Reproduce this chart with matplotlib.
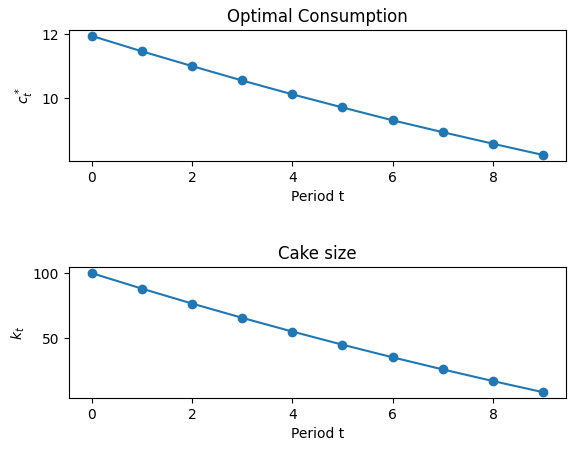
import numpy as np
import matplotlib.pyplot as plt

periods = [0, 1, 2, 3, 4, 5, 6, 7, 8, 9]
consumption = [11.95, 11.47, 11.01, 10.56, 10.13, 9.72, 9.32, 8.95, 8.59, 8.24]
cake = [100.0, 88.05, 76.58, 65.57, 55.01, 44.88, 35.16, 25.84, 16.89, 8.30]

fig, (ax1, ax2) = plt.subplots(2, 1, figsize=(5.75, 4.53), dpi=100)

ax1.plot(periods, consumption, 'o-')
ax1.set_title('Optimal Consumption')
ax1.set_xlabel('Period t')
ax1.set_ylabel('$c^*_t$')

ax2.plot(periods, cake, 'o-')
ax2.set_title('Cake size')
ax2.set_xlabel('Period t')
ax2.set_ylabel('$k_t$')

plt.subplots_adjust(left=0.12, right=0.984, top=0.934, bottom=0.121, hspace=0.81)
plt.savefig('out.png')
